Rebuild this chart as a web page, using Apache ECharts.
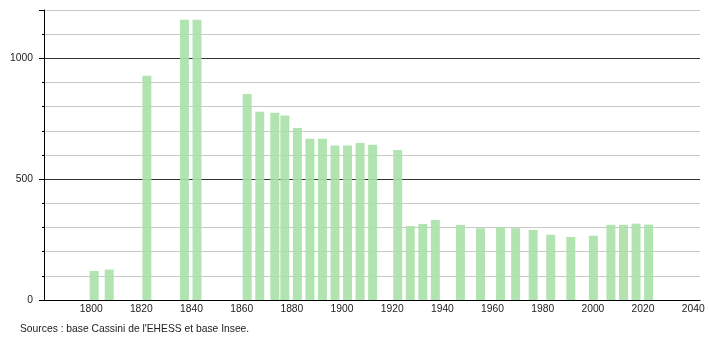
<!DOCTYPE html>
<html>
<head>
<meta charset="utf-8">
<script src="https://cdn.jsdelivr.net/npm/echarts@6/dist/echarts.min.js"></script>
<style>
html,body{margin:0;padding:0;background:#fff;}
#c{width:710px;height:340px;}
</style>
</head>
<body>
<div id="c"></div>
<script>
var years = [1800, 1806, 1821, 1836, 1841, 1861, 1866, 1872, 1876, 1881, 1886, 1891, 1896, 1901, 1906, 1911, 1921, 1926, 1931, 1936, 1946, 1954, 1962, 1968, 1975, 1982, 1990, 1999, 2006, 2011, 2016, 2021];
var population = [120, 126, 928, 1160, 1160, 852, 779, 775, 763, 712, 667, 667, 639, 639, 650, 642, 621, 306, 315, 331, 311, 297, 302, 297, 290, 270, 261, 266, 311, 311, 316, 312];
var yTickLabels = [0, 500, 1000];
var sourceText = "Sources : base Cassini de l'EHESS et base Insee.";

var chart = echarts.init(document.getElementById('c'), null, {renderer: 'canvas'});
var data = years.map(function (y, i) { return [y, population[i]]; });
var font = 'Liberation Sans, Arial, sans-serif';

chart.setOption({
  animation: false,
  backgroundColor: '#ffffff',
  grid: {left: 44, top: 10, width: 656, height: 290, containLabel: false},
  xAxis: {
    type: 'value',
    min: 1780,
    max: 2041.5,
    interval: 20,
    axisLine: {show: true, lineStyle: {color: '#000', width: 1}},
    axisTick: {show: false},
    splitLine: {show: false},
    axisLabel: {
      show: true,
      margin: 4,
      color: '#222',
      fontSize: 10.3,
      fontFamily: font,
      padding: [0, 6, 0, 0],
      formatter: function (v) { return (v === 1780) ? '' : String(v); }
    }
  },
  yAxis: [
    {
      type: 'value',
      min: 0,
      max: 1200,
      interval: 500,
      position: 'left',
      axisLine: {show: true, onZero: false, lineStyle: {color: '#000', width: 1}},
      axisTick: {show: true, length: 5, lineStyle: {color: '#000'}},
      splitLine: {show: false},
      axisLabel: {
        margin: 11,
        color: '#222',
        fontSize: 10.3,
        fontFamily: font,
        formatter: function (v) { return yTickLabels.indexOf(v) >= 0 ? String(v) : ''; }
      }
    },
    {
      type: 'value',
      min: 0,
      max: 1200,
      interval: 100,
      position: 'left',
      axisLine: {show: false},
      axisTick: {show: true, length: 2, lineStyle: {color: '#000'}},
      axisLabel: {show: false},
      splitLine: {
        show: true,
        lineStyle: {color: ['#333', '#c8c8c8', '#c8c8c8', '#c8c8c8', '#c8c8c8'], width: 1}
      }
    }
  ],
  series: [{
    type: 'bar',
    yAxisIndex: 0,
    data: data,
    barWidth: 9,
    itemStyle: {color: 'rgba(170,225,170,0.9)'},
    z: 2
  }],
  graphic: [{
    type: 'text',
    left: 20,
    top: 324,
    style: {text: sourceText, fill: '#222', font: '10.3px ' + font}
  }]
});
</script>
</body>
</html>
